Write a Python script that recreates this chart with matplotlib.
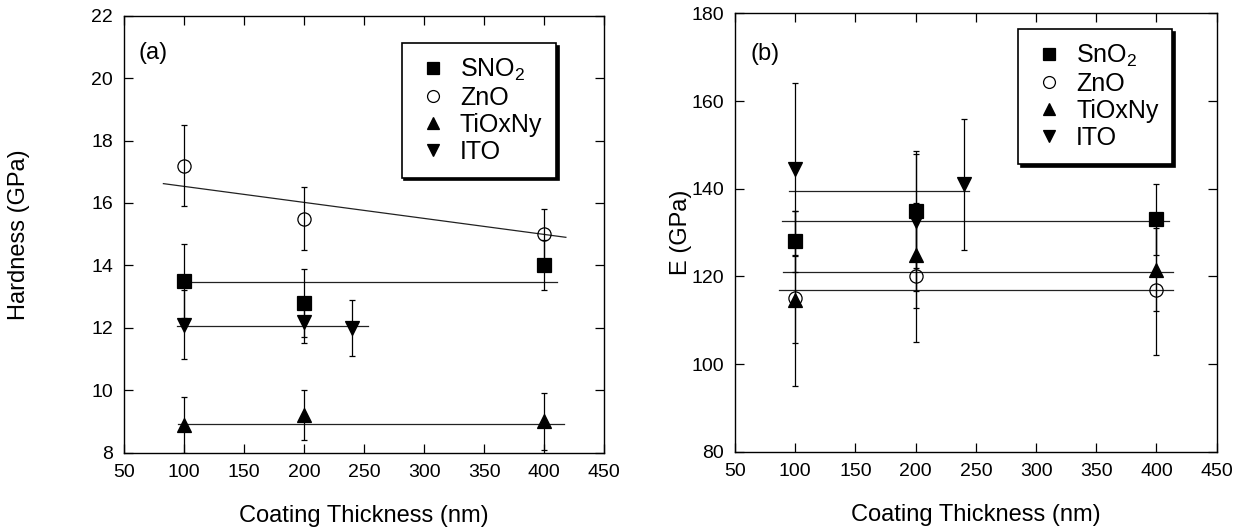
import matplotlib
matplotlib.use('Agg')
import matplotlib.pyplot as plt

plt.rcParams['font.family'] = ['Liberation Sans', 'DejaVu Sans']
plt.rcParams['mathtext.default'] = 'regular'

# coating thickness (nm)
x_main = [100, 200, 400]
x_ito = [100, 200, 240]

# (a) hardness (GPa)
sno2_h = [13.5, 12.8, 14.0]
sno2_h_err = [1.2, 1.1, 0.8]
zno_h = [17.2, 15.5, 15.0]
zno_h_err = [1.3, 1.0, 0.8]
tio_h = [8.9, 9.2, 9.0]
tio_h_err = [0.9, 0.8, 0.9]
ito_h = [12.1, 12.2, 12.0]
ito_h_err = [1.1, 0.7, 0.9]

# (b) modulus E (GPa)
sno2_e = [128, 135, 133]
sno2_e_err = [7, 13, 8]
zno_e = [115, 120, 117]
zno_e_err = [20, 15, 15]
tio_e = [114.7, 124.8, 121.5]
tio_e_err = [10, 12, 9.5]
ito_e = [144.5, 132.7, 141.0]
ito_e_err = [19.7, 16, 15]

# fitted lines (end points)
fit_a_x = {'zno': [82.6, 418.2], 'sno2': [95, 411], 'ito': [94, 253], 'tio': [95, 416.5]}
fit_a_y = {'zno': [16.62, 14.9], 'sno2': [13.47, 13.47], 'ito': [12.06, 12.06], 'tio': [8.91, 8.91]}
fit_b_x = {'ito': [95, 244.6], 'sno2': [89.3, 410.5], 'tio': [90, 413.5], 'zno': [86.5, 413.5]}
fit_b_y = {'ito': [139.6, 139.6], 'sno2': [132.55, 132.55], 'tio': [120.9, 120.9], 'zno': [117.0, 117.0]}

fig = plt.figure(figsize=(12.45, 5.31), dpi=100)
ax1 = fig.add_axes([0.09984, 0.14746, 0.38530, 0.82298])
ax2 = fig.add_axes([0.59036, 0.14934, 0.38691, 0.82524])

ebkw = dict(ecolor='black', elinewidth=0.9, capsize=2.5, capthick=0.9, linestyle='none', zorder=3)

def draw(ax, series, fx, fy):
    for k in fx:
        ax.plot(fx[k], fy[k], color='#222222', lw=0.9, zorder=2)
    for xs, ys, es, mk, ms, fill, lab in series:
        ax.errorbar(xs, ys, yerr=es, marker=mk, markersize=ms,
                    markerfacecolor='black' if fill else 'none',
                    markeredgecolor='black', markeredgewidth=0.9,
                    label=lab, **ebkw)

draw(ax1, [
    (x_main, sno2_h, sno2_h_err, 's', 10, True, r'$\mathregular{SNO_2}$'),
    (x_main, zno_h, zno_h_err, 'o', 9.5, False, 'ZnO'),
    (x_main, tio_h, tio_h_err, '^', 10, True, 'TiOxNy'),
    (x_ito, ito_h, ito_h_err, 'v', 10, True, 'ITO'),
], fit_a_x, fit_a_y)

draw(ax2, [
    (x_main, sno2_e, sno2_e_err, 's', 10, True, r'$\mathregular{SnO_2}$'),
    (x_main, zno_e, zno_e_err, 'o', 9.5, False, 'ZnO'),
    (x_main, tio_e, tio_e_err, '^', 10, True, 'TiOxNy'),
    (x_ito, ito_e, ito_e_err, 'v', 10, True, 'ITO'),
], fit_b_x, fit_b_y)

ax1.set_xlim(50, 450)
ax1.set_ylim(8, 22)
ax1.set_yticks(range(8, 23, 2))
ax2.set_xlim(50, 450)
ax2.set_ylim(80, 180)
ax2.set_yticks(range(80, 181, 20))

for ax in (ax1, ax2):
    ax.set_xticks(range(50, 451, 50))
    ax.tick_params(direction='in', top=True, right=True, length=6.5, width=0.9,
                   labelsize=14, pad=8)
    for s in ax.spines.values():
        s.set_linewidth(1.0)
    ax.set_xlabel('Coating Thickness (nm)', fontsize=17)
    ax.xaxis.set_label_coords(0.5, -0.12)

ax1.set_ylabel('Hardness (GPa)', fontsize=17)
ax1.yaxis.set_label_coords(-0.197, 0.5)
ax2.set_ylabel('E (GPa)', fontsize=17)
ax2.yaxis.set_label_coords(-0.089, 0.5)

ax1.text(0.030, 0.915, '(a)', transform=ax1.transAxes, fontsize=17, va='center', ha='left')
ax2.text(0.033, 0.908, '(b)', transform=ax2.transAxes, fontsize=17, va='center', ha='left')

legkw = dict(loc='upper left', fontsize=18, frameon=True, fancybox=False,
             edgecolor='black', framealpha=1, numpoints=1,
             shadow={'color': 'black', 'alpha': 1.0},
             borderpad=0.55, handlelength=1.4, handletextpad=0.38,
             labelspacing=0.12, borderaxespad=0, markerscale=0.9)
for ax, bx, by in ((ax1, 0.578, 0.9375), (ax2, 0.587, 0.964)):
    h, l = ax.get_legend_handles_labels()
    h = [hh[0] for hh in h]
    leg = ax.legend(h, l, bbox_to_anchor=(bx, by), **legkw)
    leg.get_frame().set_linewidth(1.2)

fig.savefig('out.png', dpi=100)
